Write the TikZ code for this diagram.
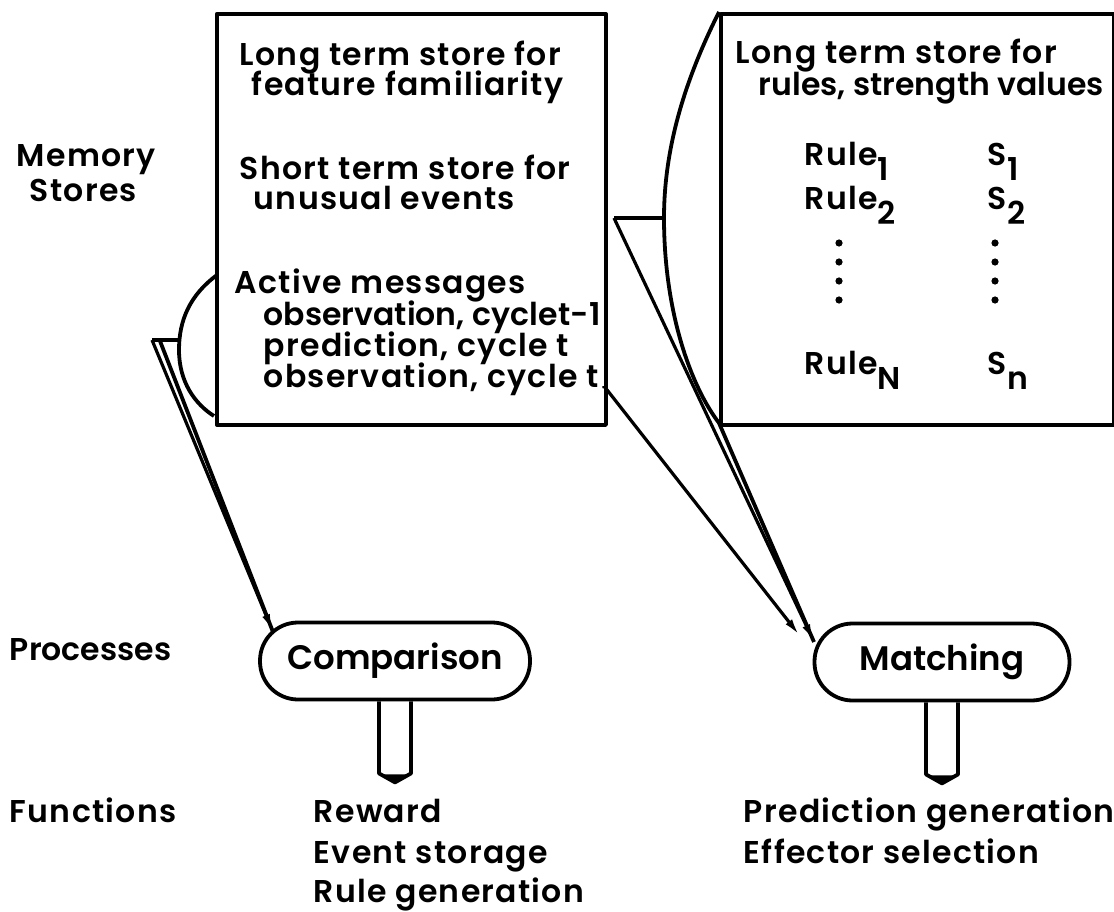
\documentclass[tikz,border=0pt]{standalone}
\usepackage{fontspec}
\setmainfont{Poppins}[UprightFont={* SemiBold}, LetterSpace=4]
\usepackage{xcolor}
\usepackage{tikz}
\usetikzlibrary{arrows.meta}
\newcommand{\lowsub}[1]{\raisebox{-15pt}{#1}}

\begin{document}
\begin{tikzpicture}[x=1pt, y=-1pt, line width=3.8pt, line join=round,
    lbl/.style={font=\fontsize{31.5}{31.5}\selectfont, anchor=base west, inner sep=0pt},
    tight/.style={font=\fontsize{31.5}{31.5}\selectfont\addfontfeature{LetterSpace=0}},
    store/.style={draw, anchor=north west, inner sep=0pt, minimum height=411pt},
    proc/.style={draw, rounded corners=38pt, minimum height=77pt, inner sep=0pt,
      font=\fontsize{34}{34}\selectfont\addfontfeature{LetterSpace=0}},
    feed/.style={-{Latex[length=18pt,width=8pt]}, line width=3.2pt}]
  \useasboundingbox (0,0) rectangle (1114,912);
  % Label: row titles on the left
  \node[lbl] (memA) at (15,167) {Memory};
  \node[lbl] (memB) at (28,202) {Stores};
  \node[lbl, tight] (procL) at (8,660) {Processes};
  \node[lbl] (funcL) at (8,822) {Functions};
  % memory boxes
  \node[store, minimum width=389pt] (shortbox) at (215,12) {};
  \node[store, minimum width=393pt] (longbox) at (719,12) {};
  % left box text
  \node[lbl] (s1) at (238,66) {Long term store for};
  \node[lbl] (s2) at (250,96) {feature familiarity};
  \node[lbl] (s3) at (238,180) {Short term store for};
  \node[lbl] (s4) at (252,210) {unusual events};
  \node[lbl] (s5) at (233,294) {Active messages};
  \node[lbl, tight] (s6) at (262,325) {observation, cycle\kern1pt t-1};
  \node[lbl] (s7) at (262,356) {prediction, cycle t};
  \node[lbl] (s8) at (262,387) {observation, cycle t};
  % right box text
  \node[lbl] (r1) at (734,64) {Long term store for};
  \node[lbl, tight] (r2) at (757,96) {rules, strength values};
  \foreach \y/\r/\s [count=\n] in {166/1/1, 210/2/2, 374/N/n} {
    \node[lbl] (rule\n) at (803,\y) {Rule\lowsub{\r}};
    \node[lbl] (str\n) at (986,\y) {S\lowsub{\s}};
  }
  \foreach \y in {243,262,281,300} {
    \fill (839,\y) circle[radius=3.6pt];
    \fill (995,\y) circle[radius=3.6pt];
  }
  % processes
  \node[proc, minimum width=270pt] (comp) at (395,661) {Comparison};
  \node[proc, minimum width=255pt] (match) at (942,662) {Matching};
  \foreach \p in {comp, match} {
    \draw ([xshift=-16pt]\p.south) -- ++(0,72) -- ++(16,9) -- ++(16,-9) -- ++(0,-72);
    \fill ([xshift=-14pt,yshift=-73pt]\p.south) -- ++(14,8) -- ++(14,-8) -- cycle;
  }
  % functions
  \node[lbl] (f1) at (312,822) {Reward};
  \node[lbl] (f2) at (312,863) {Event storage};
  \node[lbl] (f3) at (312,902) {Rule generation};
  \node[lbl] (g1) at (742,822) {Prediction generation};
  \node[lbl] (g2) at (742,863) {Effector selection};
  % left magnifier
  \coordinate (lhook) at (152,340);
  \coordinate (tipC) at (273,632);
  \draw (217,275) .. controls (190,295) and (179,320) .. (179,350)
    .. controls (179,382) and (195,404) .. (214,416);
  \draw (lhook) -- (180,340);
  \draw (160,341) -- (tipC);
  \draw[feed] (lhook) -- (tipC);
  % right magnifier
  \coordinate (rhook) at (614,218);
  \coordinate (tipA) at (800,636);
  \coordinate (tipB) at (814,642);
  \draw (719,12) .. controls (690,70) and (664,140) .. (664,218)
    .. controls (664,310) and (690,385) .. (719,423) -- (tipB);
  \draw (rhook) -- (664,218);
  \draw[feed] (rhook) -- (tipB);
  % message tick to matching
  \coordinate (tick) at (604,386);
  \draw ([xshift=4pt,yshift=-1pt]s8.base east) -- (tick);
  \draw[feed] (tick) -- (tipA);
\end{tikzpicture}
\end{document}
